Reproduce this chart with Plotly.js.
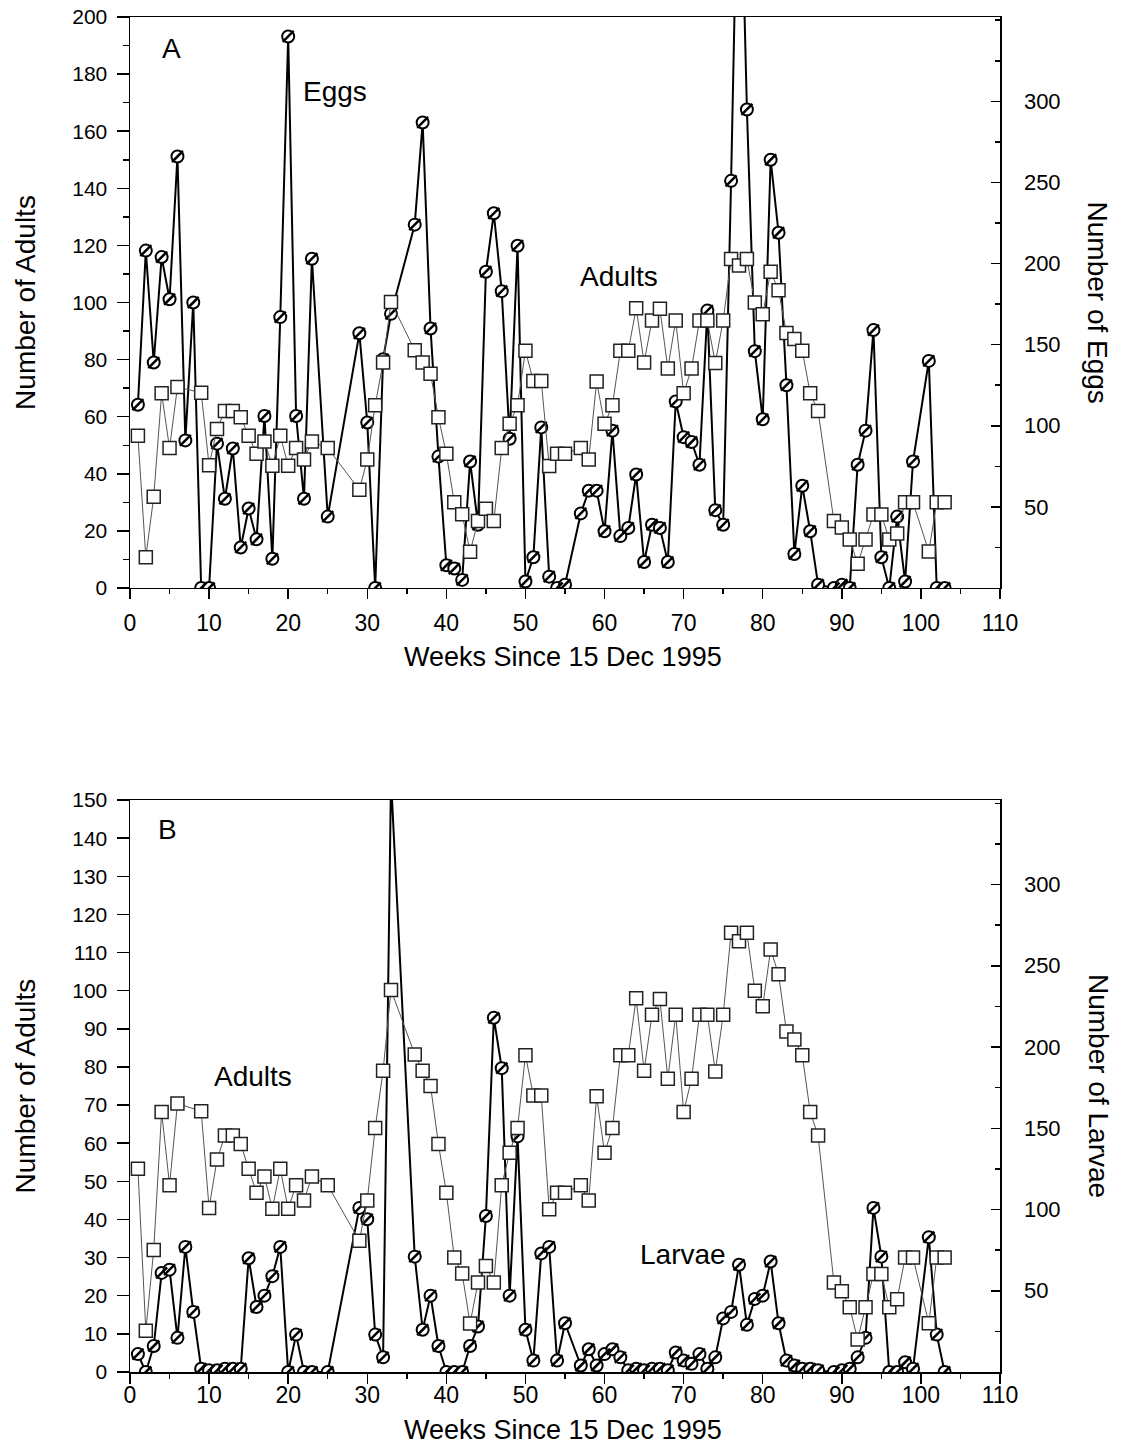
<!DOCTYPE html>
<html><head><meta charset="utf-8">
<script src="https://cdn.plot.ly/plotly-3.0.1.min.js"></script>
<style>html,body{margin:0;padding:0;background:#fff}</style>
</head><body><div id="chart" style="width:1128px;height:1447px"></div>
<script>
// Weeks with adult counts (both panels share the same adult series)
const adultWeeks = [1,2,3,4,5,6,9,10,11,12,13,14,15,16,17,18,19,20,21,22,23,25,29,30,31,32,33,
  36,37,38,39,40,41,42,43,44,45,46,47,48,49,50,51,52,53,54,55,
  57,58,59,60,61,62,63,64,65,66,67,68,69,70,71,72,73,74,75,76,77,78,79,80,81,82,83,84,85,86,87,
  89,90,91,92,93,94,95,96,97,98,99,101,102,103];
const adults = [53.3,10.8,32,68.2,49,70.4,68.4,43,55.7,62,62,59.8,53.3,47,51.3,42.8,53.3,42.8,49,45,51.3,49,34.4,45,64,79,100.2,
  83.3,79,75,59.8,47,30,25.8,12.7,23.5,27.8,23.5,49,57.5,64,83.1,72.5,72.5,42.7,47,47,
  49,45,72.3,57.5,64,83.1,83.1,98,79,93.7,97.8,76.9,93.7,68.2,76.9,93.7,93.7,78.8,93.7,115.2,113,115.2,100,95.9,110.8,104.3,89.3,87.2,83.1,68.2,62,
  23.5,21.2,17,8.5,17,25.7,25.7,17,19.1,30,30,12.8,30,30];

// Weeks with egg / larva counts
const stageWeeks = [1,2,3,4,5,6,7,8,9,10,11,12,13,14,15,16,17,18,19,20,21,22,23,25,29,30,31,32,33,
  36,37,38,39,40,41,42,43,44,45,46,47,48,49,50,51,52,53,54,55,
  57,58,59,60,61,62,63,64,65,66,67,68,69,70,71,72,73,74,75,76,77,78,79,80,81,82,83,84,85,86,87,
  89,90,91,92,93,94,95,96,97,98,99,101,102,103];
const eggs = [113,208,139,204,178,266,91,176,0,0,89,55,86,25,49,30,106,18,167,340,106,55,203,44,157,102,0,141,169,
  224,287,160,81,14,12,5,78,39,195,231,183,92,211,4,19,99,7,0,2,
  46,60,60,35,97,32,37,70,16,39,37,16,115,93,90,76,171,48,39,251,490,295,146,104,264,219,125,21,63,35,2,
  0,2,0,76,97,159,19,0,44,4,78,140,0,0];
const larvae = [11,0,16,61,63,21,77,37,2,1,1,2,2,2,70,40,47,59,77,0,23,0,0,0,101,94,23,9,365,
  71,26,47,16,0,0,0,16,28,96,218,187,47,145,26,7,73,77,7,30,
  4,14,4,11,14,9,1,2,1,2,2,1,12,7,5,11,2,9,33,37,66,29,45,47,68,30,7,4,2,2,1,
  0,1,2,9,21,101,71,0,0,6,2,83,23,0];

const xTitle = 'Weeks Since 15 Dec 1995';
const FONT = 'Liberation Sans, Arial, Helvetica, sans-serif';

function stageTraces(xa, ya, ys) {
  return [
    {x: stageWeeks, y: ys, xaxis: xa, yaxis: ya, type: 'scatter', mode: 'lines+markers',
     line: {color: '#000', width: 2},
     marker: {symbol: 'circle', size: 12, color: '#fff', line: {color: '#000', width: 2}},
     showlegend: false, hoverinfo: 'x+y'},
    {x: stageWeeks, y: ys, xaxis: xa, yaxis: ya, type: 'scatter', mode: 'markers',
     marker: {symbol: 'line-ne', size: 11, color: '#000', line: {color: '#000', width: 2.5}},
     showlegend: false, hoverinfo: 'skip'}
  ];
}
function adultTrace(xa, ya) {
  return {x: adultWeeks, y: adults, xaxis: xa, yaxis: ya, type: 'scatter', mode: 'lines+markers',
    line: {color: '#555', width: 1},
    marker: {symbol: 'square', size: 13, color: '#fff', line: {color: '#222', width: 1.5}},
    showlegend: false};
}

const data = [].concat(
  stageTraces('x', 'y', eggs), [adultTrace('x', 'y2')],
  stageTraces('x2', 'y3', larvae), [adultTrace('x2', 'y4')]
);

const topDom = [0.5786, 1];
const botDom = [0, 0.4221];

function xAxis(anchor, standoff) {
  return {anchor: anchor, domain: [0, 1], range: [0, 110], tickmode: 'linear', tick0: 0, dtick: 10,
    ticks: 'outside', ticklen: 10, tickwidth: 1.5, tickcolor: '#000',
    minor: {ticks: 'outside', ticklen: 5, tickmode: 'linear', tick0: 0, dtick: 5, tickwidth: 1.5, tickcolor: '#000'},
    showline: true, linewidth: 1.5, linecolor: '#000', mirror: true, showgrid: false, zeroline: false,
    tickfont: {size: 23, family: FONT, color: '#000'}, ticklabelstandoff: standoff};
}
function rightAxis(dom, anchor) {
  return {domain: dom, anchor: anchor, side: 'right', range: [0, 352], tickmode: 'array',
    tickvals: [50, 100, 150, 200, 250, 300], ticks: 'inside', ticklen: 9, tickwidth: 1.5, tickcolor: '#000',
    minor: {ticks: 'inside', ticklen: 5, tickmode: 'linear', tick0: 0, dtick: 25, tickwidth: 1.5, tickcolor: '#000'},
    showline: true, linewidth: 1.5, linecolor: '#000', showgrid: false, zeroline: false,
    tickfont: {size: 22, family: FONT, color: '#000'}, ticklabelstandoff: 18};
}
function leftAxis(over, anchor, maxv, dt, minorDt) {
  const ax = {overlaying: over, anchor: anchor, side: 'left', range: [0, maxv], tickmode: 'linear', tick0: 0, dtick: dt,
    ticks: 'outside', ticklen: 12, tickwidth: 1.5, tickcolor: '#000',
    showline: true, linewidth: 1.5, linecolor: '#000', showgrid: false, zeroline: false,
    tickfont: {size: 21, family: FONT, color: '#000'}, ticklabelstandoff: 5,
    title: {text: 'Number of Adults', font: {size: 28, family: FONT, color: '#000'}, standoff: 28}};
  if (minorDt) ax.minor = {ticks: 'outside', ticklen: 6, tickmode: 'linear', tick0: 0, dtick: minorDt, tickwidth: 1.5, tickcolor: '#000'};
  return ax;
}

function note(text, x, y, xref, yref, extra) {
  return Object.assign({text: text, x: x, y: y, xref: xref, yref: yref, showarrow: false,
    xanchor: 'center', yanchor: 'middle', font: {size: 28, family: FONT, color: '#000'}}, extra || {});
}

const layout = {
  width: 1128, height: 1447,
  margin: {l: 130, r: 128, t: 17, b: 75},
  paper_bgcolor: '#fff', plot_bgcolor: 'rgba(0,0,0,0)',
  font: {family: FONT, color: '#000'},
  showlegend: false,
  xaxis: xAxis('y', 4),
  yaxis: rightAxis(topDom, 'x'),
  yaxis2: leftAxis('y', 'x', 200, 20, 10),
  xaxis2: xAxis('y3', -8),
  yaxis3: rightAxis(botDom, 'x2'),
  yaxis4: leftAxis('y3', 'x2', 150, 10, null),
  annotations: [
    note('A', 5.2, 189, 'x', 'y2'),
    note('Eggs', 25.9, 174, 'x', 'y2'),
    note('Adults', 61.8, 109, 'x', 'y2'),
    note('B', 4.8, 142.4, 'x2', 'y4'),
    note('Adults', 15.6, 77.6, 'x2', 'y4'),
    note('Larvae', 69.9, 30.7, 'x2', 'y4'),
    note(xTitle, 0.4977, 0.5277, 'paper', 'paper', {font: {size: 27, family: FONT, color: '#000'}}),
    note(xTitle, 0.4977, -0.0428, 'paper', 'paper', {font: {size: 27, family: FONT, color: '#000'}}),
    note('Number of Eggs', 1.1126, 0.7893, 'paper', 'paper', {textangle: 90}),
    note('Number of Larvae', 1.1126, 0.2111, 'paper', 'paper', {textangle: 90})
  ]
};

Plotly.newPlot('chart', data, layout, {staticPlot: true, displayModeBar: false});
</script>
</body></html>
